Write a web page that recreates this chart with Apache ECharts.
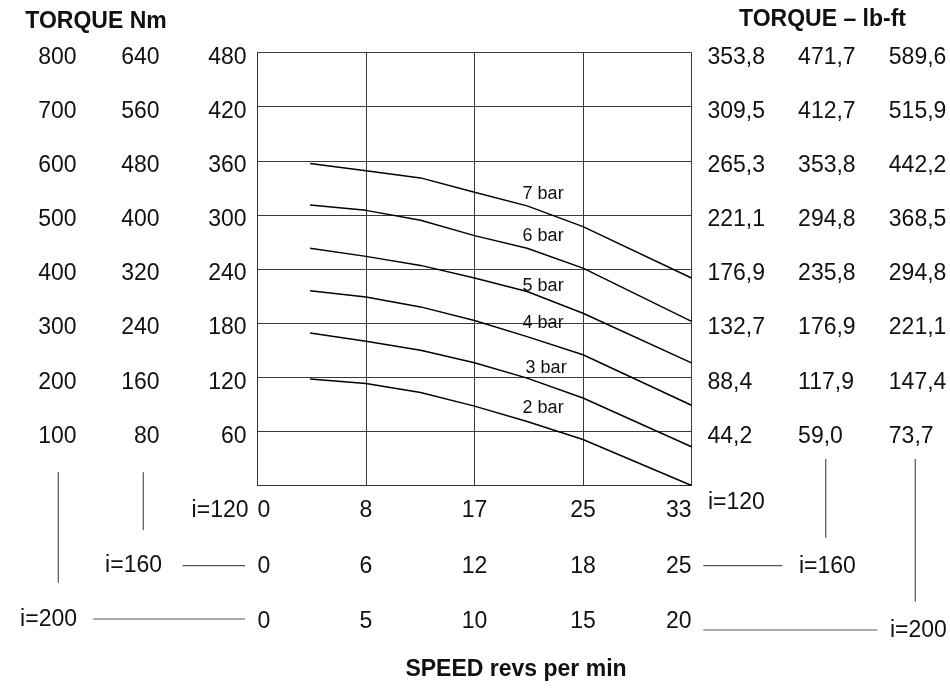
<!DOCTYPE html>
<html>
<head>
<meta charset="utf-8">
<script src="https://cdn.jsdelivr.net/npm/echarts@6/dist/echarts.min.js"></script>
<style>
html,body{margin:0;padding:0;background:#fff;}
#chart{width:950px;height:688px;}
</style>
</head>
<body>
<div id="chart"></div>
<script>
// ---- data ----
var speedPoints = [4, 8.25, 12.4, 16.5, 20.5, 24.75, 33]; // rpm at i=120
var seriesNames = ['7 bar', '6 bar', '5 bar', '4 bar', '3 bar', '2 bar'];
var bar7 = [357, 349, 341, 325, 310, 287, 230];
var bar6 = [311, 305, 294, 277, 263, 241, 182];
var bar5 = [263, 254, 244, 230, 215, 191, 136];
var bar4 = [216, 209, 198, 183, 165, 145, 89];
var bar3 = [169, 160, 150, 136, 119, 97, 43];
var bar2 = [118, 113, 103, 88, 71, 51, 0];

var speedLabels120 = ['0', '8', '17', '25', '33'];
var speedLabels160 = ['0', '6', '12', '18', '25'];
var speedLabels200 = ['0', '5', '10', '15', '20'];

var nmLabels120 = ['', '60', '120', '180', '240', '300', '360', '420', '480'];
var nmLabels160 = ['', '80', '160', '240', '320', '400', '480', '560', '640'];
var nmLabels200 = ['', '100', '200', '300', '400', '500', '600', '700', '800'];

var lbLabels120 = ['', '44,2', '88,4', '132,7', '176,9', '221,1', '265,3', '309,5', '353,8'];
var lbLabels160 = ['', '59,0', '117,9', '176,9', '235,8', '294,8', '353,8', '412,7', '471,7'];
var lbLabels200 = ['', '73,7', '147,4', '221,1', '294,8', '368,5', '442,2', '515,9', '589,6'];

// ---- chart ----
var FONT = 'Liberation Sans, Arial, Helvetica, sans-serif';
var TXT = '#111';
var TICK = 23;
var chart = echarts.init(document.getElementById('chart'), null, {renderer: 'canvas'});

function idxFmt(labels, step) {
  return function (v) { var i = Math.round(v / step); return labels[i] !== undefined ? labels[i] : ''; };
}

function xAx(max, labels, offset, showLine) {
  var step = max / 4;
  return {
    type: 'value', min: 0, max: max, interval: step, position: 'bottom', offset: offset,
    axisLine: {show: showLine, lineStyle: {color: '#333', width: 1}},
    axisTick: {show: false},
    splitLine: {show: showLine, lineStyle: {color: '#3a3a3a', width: 1}},
    axisLabel: {
      formatter: idxFmt(labels, step), color: TXT, fontFamily: FONT, fontSize: TICK,
      margin: 14, alignMinLabel: 'left', alignMaxLabel: 'right', showMinLabel: true, showMaxLabel: true
    }
  };
}

function yAx(max, labels, pos, offset, margin, showLine) {
  var step = max / 8;
  return {
    type: 'value', min: 0, max: max, interval: step, position: pos, offset: offset,
    axisLine: {show: showLine, lineStyle: {color: '#333', width: 1}},
    axisTick: {show: false},
    splitLine: {show: showLine, lineStyle: {color: '#3a3a3a', width: 1}},
    axisLabel: {
      formatter: idxFmt(labels, step), color: TXT, fontFamily: FONT, fontSize: TICK,
      margin: margin, align: pos === 'left' ? 'right' : 'left', verticalAlign: 'top', lineHeight: 10,
      showMinLabel: true, showMaxLabel: true
    }
  };
}

var dataSets = [bar7, bar6, bar5, bar4, bar3, bar2];
var labelOffsets = [[16, -12], [16, -12], [16, -6], [16, -14], [19, -10], [16, -13]];

var series = dataSets.map(function (vals, s) {
  return {
    name: seriesNames[s], type: 'line', xAxisIndex: 0, yAxisIndex: 0,
    showSymbol: true, symbol: 'circle', symbolSize: 2, smooth: false,
    itemStyle: {color: 'rgba(0,0,0,0)', borderWidth: 0},
    lineStyle: {color: '#000', width: 1.5},
    label: {show: false, position: 'inside', formatter: seriesNames[s],
      color: TXT, fontFamily: FONT, fontSize: 18},
    data: vals.map(function (v, i) {
      var d = {value: [speedPoints[i], v]};
      if (i === 4) {
        d.label = {show: true};
      }
      return d;
    }),
    labelLayout: {dx: labelOffsets[s][0], dy: labelOffsets[s][1], hideOverlap: false}
  };
});

function gText(text, x, y, align, bold, size) {
  return {type: 'text', x: x, y: y, silent: true,
    style: {text: text, textAlign: align, textVerticalAlign: 'middle', fill: TXT,
      font: (bold ? 'bold ' : '') + (size || TICK) + 'px ' + FONT}};
}
function gLine(x1, y1, x2, y2) {
  return {type: 'line', silent: true, shape: {x1: x1, y1: y1, x2: x2, y2: y2},
    style: {stroke: '#555', lineWidth: 1.2}};
}

var option = {
  backgroundColor: '#fff',
  animation: false,
  grid: {left: 257.5, right: 258.5, top: 52.5, bottom: 202.5, containLabel: false},
  xAxis: [
    xAx(33, speedLabels120, 0, true),
    xAx(25, speedLabels160, 55.5, false),
    xAx(20, speedLabels200, 111, false)
  ],
  yAxis: [
    yAx(480, nmLabels120, 'left', 0, 11, true),
    yAx(640, nmLabels160, 'left', 87, 11, false),
    yAx(800, nmLabels200, 'left', 170, 11, false),
    yAx(353.8, lbLabels120, 'right', 0, 16, false),
    yAx(471.7, lbLabels160, 'right', 90.6, 16, false),
    yAx(589.6, lbLabels200, 'right', 181.3, 16, false)
  ],
  series: series,
  graphic: [
    gText('TORQUE Nm', 96, 21.5, 'center', true),
    gText('TORQUE \u2013 lb-ft', 822.5, 19.5, 'center', true),
    gText('SPEED revs per min', 516, 669.5, 'center', true),
    gText('i=120', 248.5, 510.5, 'right'),
    gText('i=160', 162, 566, 'right'),
    gText('i=200', 77, 620, 'right'),
    gText('i=120', 708, 502.5, 'left'),
    gText('i=160', 799, 566.5, 'left'),
    gText('i=200', 890, 631, 'left'),
    gLine(182.7, 565.7, 245, 565.7),
    gLine(93.3, 619, 245, 619),
    gLine(703.3, 565.7, 782.3, 565.7),
    gLine(703.3, 630, 877.3, 630),
    gLine(58.3, 472.3, 58.3, 582.7),
    gLine(143.3, 472.3, 143.3, 530),
    gLine(825.7, 459, 825.7, 537.7),
    gLine(915.3, 459, 915.3, 601.7)
  ]
};
chart.setOption(option);
</script>
</body>
</html>
